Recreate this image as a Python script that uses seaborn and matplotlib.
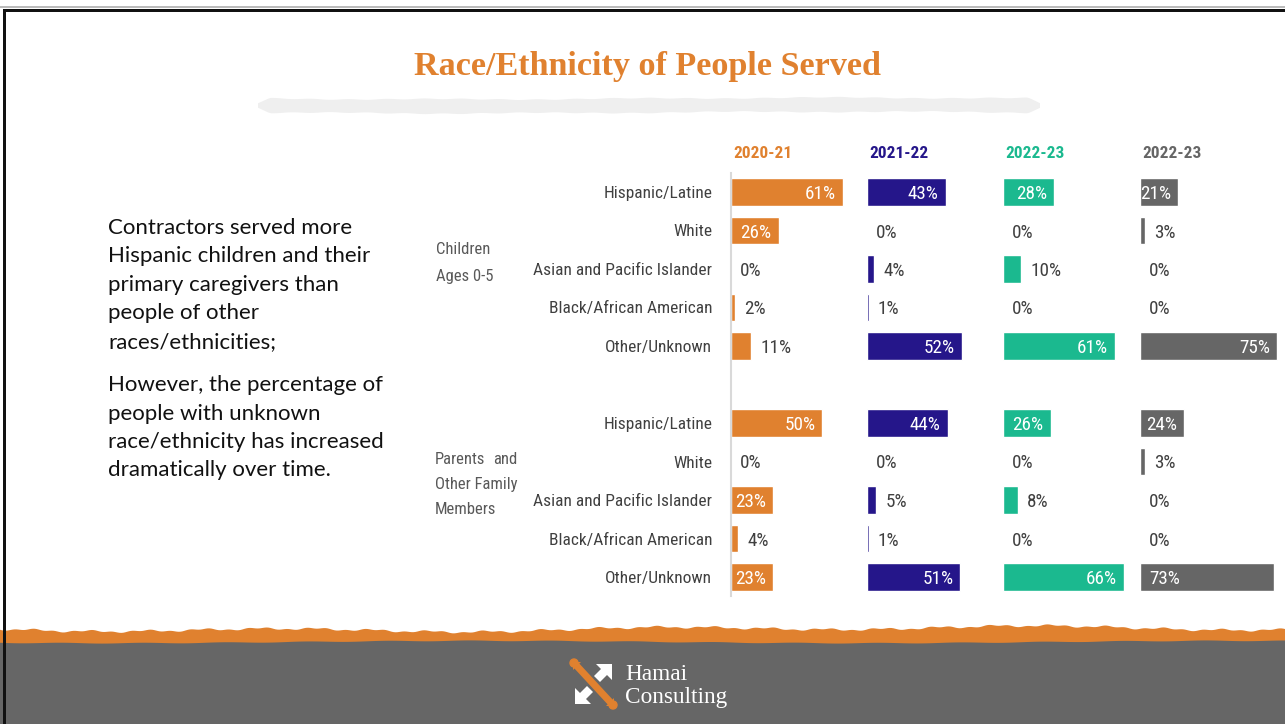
import numpy as np
import pandas as pd
import matplotlib
matplotlib.use("Agg")
import matplotlib.pyplot as plt
import seaborn as sns
from matplotlib import font_manager as fm
from matplotlib.patches import Polygon, Rectangle, Circle

# ---------------- data ----------------
categories = ["Hispanic/Latine", "White", "Asian and Pacific Islander",
              "Black/African American", "Other/Unknown"]
group_keys = ["children", "parents"]
year_labels = ["2020-21", "2021-22", "2022-23", "2022-23"]

children_2020_21 = [61, 26, 0, 2, 11]
children_2021_22 = [43, 0, 4, 1, 52]
children_2022_23 = [28, 0, 10, 0, 61]
children_2022_23b = [21, 3, 0, 0, 75]

parents_2020_21 = [50, 0, 23, 4, 23]
parents_2021_22 = [44, 0, 5, 1, 51]
parents_2022_23 = [26, 0, 8, 0, 66]
parents_2022_23b = [24, 3, 0, 0, 73]

children_cols = [children_2020_21, children_2021_22, children_2022_23, children_2022_23b]
parents_cols = [parents_2020_21, parents_2021_22, parents_2022_23, parents_2022_23b]

col_colors = ["#E0812F", "#25168A", "#1BB98F", "#666666"]

# ---------------- fonts ----------------
W, H = 1285, 724
DPI = 100
sns.set_theme(style="white")

ttf = fm.fontManager.ttflist
avail = {f.name for f in ttf}
NKW = None
for cand in ["Liberation Sans Narrow", "DejaVu Sans Condensed", "Roboto Condensed",
             "Open Sans Condensed", "Noto Sans Condensed", "Arial Narrow"]:
    if cand in avail:
        NKW = {"family": [cand, "DejaVu Sans"]}
        break
if NKW is None:
    cond = [f for f in ttf if f.name in ("DejaVu Sans", "Noto Sans", "Open Sans", "Roboto")
            and str(f.stretch) in ("condensed", "semi-condensed", "extra-condensed")]
    if cond:
        NKW = {"family": [cond[0].name, "DejaVu Sans"], "fontstretch": "condensed"}
    else:
        NKW = {"family": ["Roboto", "DejaVu Sans"]}
plt.rcParams["font.family"] = NKW["family"]

fig = plt.figure(figsize=(W / DPI, H / DPI), dpi=DPI, facecolor="white")
renderer = fig.canvas.get_renderer()


def fit(text, target_px, base=12.0, **kw):
    t = fig.text(0, 0, text, fontsize=base, **kw)
    w = t.get_window_extent(renderer).width
    t.remove()
    return base * target_px / w


S_CAT = fit("Asian and Pacific Islander", 158, **NKW) * 1.13
S_VAL = fit("52%", 28, **NKW) * 1.1
S_HDR = fit("2021-22", 52, fontweight="bold", **NKW) * 1.12
S_GRP = fit("Other Family", 80, **NKW) * 1.03
SERIF = ["Liberation Serif", "DejaVu Serif"]
S_TTL = fit("Race/Ethnicity of People Served", 465, family=SERIF, fontweight="bold")
LEFTF = ["Lato", "DejaVu Sans"]
S_LFT = fit("Hispanic children and their", 260, family=LEFTF)
S_LOGO = fit("Consulting", 102, family=SERIF)

# background / decoration layer in pixel coordinates
bg = fig.add_axes([0, 0, 1, 1])
bg.set_xlim(0, W)
bg.set_ylim(H, 0)
bg.axis("off")

# slide border
bg.add_patch(Rectangle((0, 6), W, 1.5, color="#BBBBBB", lw=0))
bg.add_patch(Rectangle((3, 8.5), W, 3, color="#111111", lw=0))
bg.add_patch(Rectangle((3, 8.5), 2.5, H, color="#111111", lw=0))

# title brush stroke
xs = np.linspace(258, 1040, 300)
taper = np.clip((xs - 258) / 12, 0, 1) * np.clip((1040 - xs) / 12, 0, 1)
mid = 105.5 + 0.8 * np.sin((xs - 258) / 782 * np.pi * 2)
half = 7.0 * (0.3 + 0.7 * taper) + 0.4 * np.sin(xs / 6.0) + 0.5 * np.sin(xs / 31.0)
poly = np.vstack([np.column_stack([xs, mid - half]), np.column_stack([xs[::-1], (mid + half)[::-1]])])
bg.add_patch(Polygon(poly, closed=True, color="#EFEFEF", lw=0))

# footer
xf = np.linspace(0, W, 700)
o_top = 629 + 1.8 * np.sin(xf / 60.0) + 0.9 * np.sin(xf / 9.0 + 1.0) + 1.5 * np.sin(xf / 210.0) + 0.6 * np.sin(xf / 3.1)
g_top = 642 + 1.2 * np.sin(xf / 120.0 + 0.7) + 0.4 * np.sin(xf / 13.0)
opoly = np.vstack([np.column_stack([xf, o_top]), [[W, 660], [0, 660]]])
bg.add_patch(Polygon(opoly, closed=True, color="#E0812F", lw=0))
gpoly = np.vstack([np.column_stack([xf, g_top]), [[W, H + 2], [0, H + 2]]])
bg.add_patch(Polygon(gpoly, closed=True, color="#666666", lw=0))
bg.add_patch(Rectangle((3, 600), 2.5, H, color="#111111", lw=0))

# logo
bg.add_patch(Polygon([[596, 664], [612, 664], [612, 680], [607, 675], [600, 682], [594, 676], [601, 669]],
                     closed=True, color="white", lw=0))
bg.add_patch(Polygon([[575, 704], [575, 688], [580, 693], [587, 686], [593, 692], [586, 699], [591, 704]],
                     closed=True, color="white", lw=0))
bg.plot([575, 612], [664, 704], color="#E0812F", lw=5, solid_capstyle="butt")
bg.add_patch(Circle((574, 663), 4, color="#E0812F"))
bg.add_patch(Circle((613, 705), 4, color="#E0812F"))
bg.add_patch(Polygon([[573, 670], [573, 662], [581, 662]], closed=True, color="#E0812F", lw=0))
bg.add_patch(Polygon([[614, 698], [614, 706], [606, 706]], closed=True, color="#E0812F", lw=0))
bg.text(625, 675, "Hamai", color="white", fontsize=S_LOGO, family=SERIF, va="center", ha="left")
bg.text(625, 697, "Consulting", color="white", fontsize=S_LOGO, family=SERIF, va="center", ha="left")

# title
bg.text(648, 67, "Race/Ethnicity of People Served", color="#E0812F", fontsize=S_TTL,
        family=SERIF, fontweight="bold", ha="center", va="center")

# left narrative
para1 = ["Contractors served more", "Hispanic children and their", "primary caregivers than",
         "people of other", "races/ethnicities;"]
para2 = ["However, the percentage of", "people with unknown", "race/ethnicity has increased",
         "dramatically over time."]
for i, line in enumerate(para1):
    bg.text(108, 228 + 28.4 * i, line, fontsize=S_LFT, family=LEFTF,
            color="#111111", va="center", ha="left")
for i, line in enumerate(para2):
    bg.text(108, 385 + 28.5 * i, line, fontsize=S_LFT, family=LEFTF,
            color="#111111", va="center", ha="left")

# group labels
glab = dict(fontsize=S_GRP, color="#595959", va="center", ha="left", **NKW)
bg.text(436, 250, "Children", **glab)
bg.text(436, 276, "Ages 0-5", **glab)
bg.text(435, 460, "Parents", **glab)
bg.text(517, 460, "and", **{**glab, "ha": "right"})
bg.text(435, 485, "Other Family", **glab)
bg.text(435, 510, "Members", **glab)

# ---------------- bar panels ----------------
order = [f"children|{c}" for c in categories] + ["gap"] + [f"parents|{c}" for c in categories]
col_left = [731, 867, 1003, 1140]
px_per_pct = 1.83
xmax = 77
ax_w = xmax * px_per_pct
row_top, row_step = 192, 38.5
y_top_px = row_top - row_step / 2
y_bot_px = row_top + row_step * 10 + row_step / 2

left_inside = {(3, "parents", "Other/Unknown")}

for j in range(4):
    recs = []
    for g, cols in zip(group_keys, [children_cols, parents_cols]):
        for c, v in zip(categories, cols[j]):
            recs.append({"row": f"{g}|{c}", "value": v, "group": g, "cat": c})
    df = pd.DataFrame(recs)

    ax = fig.add_axes([col_left[j] / W, 1 - y_bot_px / H, ax_w / W, (y_bot_px - y_top_px) / H])
    ax.patch.set_alpha(0)
    sns.barplot(data=df, x="value", y="row", order=order, color=col_colors[j],
                saturation=1, width=0.72, errorbar=None, orient="h", ax=ax)
    ax.set_xlim(0, xmax)
    ax.set_ylim(10.5, -0.5)
    ax.set_xlabel("")
    ax.set_ylabel("")
    ax.set_xticks([])
    for s in ax.spines.values():
        s.set_visible(False)
    if j == 0:
        ax.spines["left"].set_visible(True)
        ax.spines["left"].set_color("#D9D9D9")
        ax.spines["left"].set_linewidth(1.5)
        ax.set_yticks(range(len(order)))
        ax.set_yticklabels([c for c in categories] + [""] + [c for c in categories])
        ax.tick_params(axis="y", length=0, pad=13.5, labelsize=S_CAT, labelcolor="#404040")
        for tl in ax.get_yticklabels():
            tl.set_fontproperties(fm.FontProperties(family=NKW["family"],
                                                    stretch=NKW.get("fontstretch", "normal"),
                                                    size=S_CAT))
    else:
        ax.set_yticks([])

    # value labels
    for _, r in df.iterrows():
        yi = order.index(r["row"])
        v = r["value"]
        txt = f"{v}%"
        if (j, r["group"], r["cat"]) in left_inside:
            ax.annotate(txt, (0, yi), xytext=(9, 0), textcoords="offset pixels", ha="left",
                        va="center_baseline", color="white", fontsize=S_VAL, annotation_clip=False, **NKW)
        elif v >= 20:
            ax.annotate(txt, (v, yi), xytext=(-7, 0), textcoords="offset pixels", ha="right",
                        va="center_baseline", color="white", fontsize=S_VAL, annotation_clip=False, **NKW)
        else:
            ax.annotate(txt, (v, yi), xytext=(9, 0), textcoords="offset pixels", ha="left",
                        va="center_baseline", color="#404040", fontsize=S_VAL, annotation_clip=False, **NKW)

    # column header
    bg.text(col_left[j] + 2, 153, year_labels[j], color=col_colors[j], fontsize=S_HDR,
            fontweight="bold", ha="left", va="center", **NKW)

fig.savefig("out.png", dpi=DPI, facecolor="white")
